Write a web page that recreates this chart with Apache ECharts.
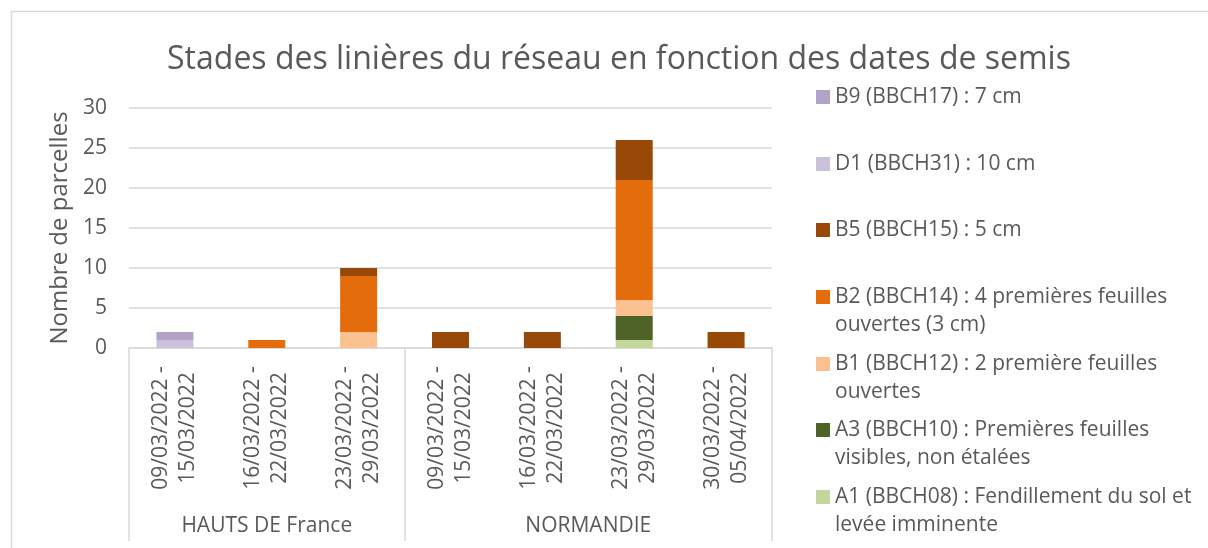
<!DOCTYPE html>
<html>
<head>
<meta charset="utf-8">
<script src="https://cdn.jsdelivr.net/npm/echarts@6/dist/echarts.min.js"></script>
<style>
html,body{margin:0;padding:0;background:#fff;}
#chart{width:1208px;height:548px;}
</style>
</head>
<body>
<div id="chart"></div>
<script>
// ---- data ----
const categories = [
  '09/03/2022 -\n15/03/2022', '16/03/2022 -\n22/03/2022', '23/03/2022 -\n29/03/2022',
  '09/03/2022 -\n15/03/2022', '16/03/2022 -\n22/03/2022', '23/03/2022 -\n29/03/2022',
  '30/03/2022 -\n05/04/2022'
];
const regions = ['HAUTS DE France', 'NORMANDIE'];
const regionCounts = [3, 4];

// stacking order bottom -> top
const seriesNames = [
  'A1 (BBCH08) : Fendillement du sol et levée imminente',
  'A3 (BBCH10) : Premières feuilles visibles, non étalées',
  'B1 (BBCH12) : 2 première feuilles ouvertes',
  'B2 (BBCH14) : 4 premières feuilles ouvertes (3 cm)',
  'B5 (BBCH15) : 5 cm',
  'D1 (BBCH31) : 10 cm',
  'B9 (BBCH17) : 7 cm'
];
const legendLabels = [
  'A1 (BBCH08) : Fendillement du sol et\nlevée imminente',
  'A3 (BBCH10) : Premières feuilles\nvisibles, non étalées',
  'B1 (BBCH12) : 2 première feuilles\nouvertes',
  'B2 (BBCH14) : 4 premières feuilles\nouvertes (3 cm)',
  'B5 (BBCH15) : 5 cm',
  'D1 (BBCH31) : 10 cm',
  'B9 (BBCH17) : 7 cm'
];
const A1 = [0, 0, 0, 0, 0, 1, 0];
const A3 = [0, 0, 0, 0, 0, 3, 0];
const B1 = [0, 0, 2, 0, 0, 2, 0];
const B2 = [0, 1, 7, 0, 0, 15, 0];
const B5 = [0, 0, 1, 2, 2, 5, 2];
const D1 = [1, 0, 0, 0, 0, 0, 0];
const B9 = [1, 0, 0, 0, 0, 0, 0];
const seriesValues = [A1, A3, B1, B2, B5, D1, B9];
const yTicks = [0, 5, 10, 15, 20, 25, 30];

// ---- styles ----
const colors = ['#C3D69B', '#4F6228', '#FAC090', '#E46C0A', '#984807', '#CCC1DA', '#B3A2C7'];
const FONT = 'Open Sans';
const TXT = '#595959';
const GRID = '#D9D9D9';

// second (group) axis: half-category slots
const totalCats = regionCounts.reduce((a, b) => a + b, 0);
const groupSlots = new Array(totalCats * 2 + 1).fill('');
const boundarySlots = [0];
let acc = 0;
regions.forEach((r, i) => {
  groupSlots[acc * 2 + regionCounts[i]] = r;
  acc += regionCounts[i];
  boundarySlots.push(acc * 2);
});
const labelSlots = [];
acc = 0;
regionCounts.forEach(c => { labelSlots.push(acc * 2 + c); acc += c; });

// legend layout (top -> bottom order: B9 ... A1)
const legendCenters = [97, 164, 230, 297, 364, 430, 497];
const legends = [];
for (let k = 0; k < seriesNames.length; k++) {
  const idx = seriesNames.length - 1 - k;
  const twoLine = legendLabels[idx].indexOf('\n') >= 0;
  legends.push({
    data: [seriesNames[idx]],
    orient: 'vertical',
    left: 816,
    top: legendCenters[k] - (twoLine ? 42 : 14),
    padding: 0,
    itemWidth: 14,
    itemHeight: 14,
    icon: 'rect',
    selectedMode: false,
    // blank leading line keeps the icon level with the first text line
    formatter: (name) => {
      const t = legendLabels[seriesNames.indexOf(name)];
      return t.indexOf('\n') >= 0 ? ' \n' + t : t;
    },
    textStyle: {fontFamily: FONT, fontSize: 21, color: TXT, lineHeight: 28}
  });
}

const chart = echarts.init(document.getElementById('chart'), null, {renderer: 'canvas'});
chart.setOption({
  backgroundColor: '#fff',
  animation: false,
  textStyle: {fontFamily: FONT},
  title: {
    text: 'Stades des linières du réseau en fonction des dates de semis',
    left: 614,
    textAlign: 'center',
    top: 39,
    textStyle: {fontFamily: FONT, fontSize: 32, fontWeight: 'normal', color: TXT}
  },
  graphic: [{
    type: 'rect', left: 9, top: 9, silent: true,
    shape: {width: 1230, height: 580},
    style: {fill: 'none', stroke: GRID, lineWidth: 1.5}
  }],
  legend: legends,
  grid: {left: 129, right: 436, top: 108, bottom: 200, containLabel: false},
  xAxis: [{
    type: 'category',
    data: categories,
    axisLine: {lineStyle: {color: GRID, width: 1.5}},
    axisTick: {show: false},
    axisLabel: {
      interval: 0, rotate: 90, align: 'center', verticalAlign: 'middle',
      margin: 80, fontFamily: FONT, fontSize: 21, lineHeight: 27, color: TXT
    }
  }, {
    type: 'category',
    data: groupSlots,
    position: 'bottom',
    boundaryGap: false,
    axisLine: {show: false},
    axisTick: {
      show: true, length: 193, interval: (i) => boundarySlots.indexOf(i) >= 0,
      lineStyle: {color: GRID, width: 1.5}
    },
    axisLabel: {
      interval: (i) => labelSlots.indexOf(i) >= 0,
      margin: 178, verticalAlign: 'middle',
      fontFamily: FONT, fontSize: 21, color: TXT
    },
    splitLine: {show: false}
  }],
  yAxis: {
    type: 'value',
    min: yTicks[0], max: yTicks[yTicks.length - 1], interval: yTicks[1] - yTicks[0],
    name: 'Nombre de parcelles',
    nameLocation: 'middle',
    nameRotate: 90,
    nameGap: 56,
    nameTextStyle: {fontFamily: FONT, fontSize: 24, color: TXT},
    axisLine: {show: false},
    axisTick: {show: false},
    axisLabel: {margin: 22, fontFamily: FONT, fontSize: 21, color: TXT},
    splitLine: {lineStyle: {color: GRID, width: 1.5}}
  },
  series: seriesNames.map((n, i) => ({
    name: n,
    type: 'bar',
    stack: 'total',
    xAxisIndex: 0,
    barWidth: 37,
    data: seriesValues[i],
    itemStyle: {color: colors[i]}
  }))
});
</script>
</body>
</html>
